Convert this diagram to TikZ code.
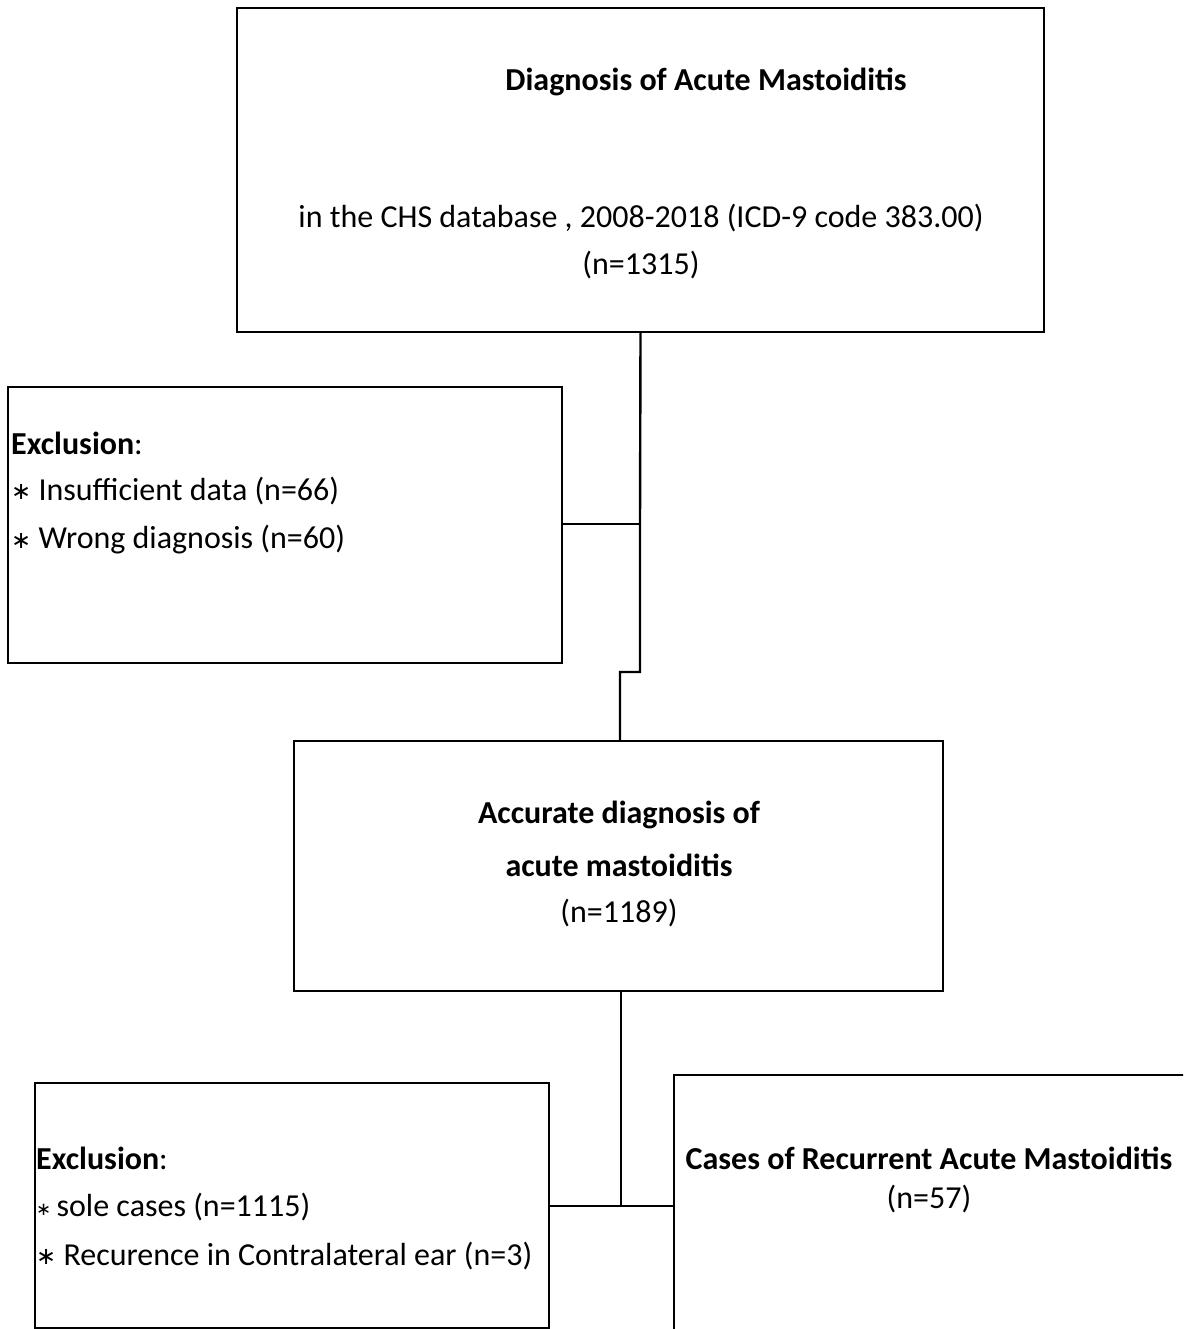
\documentclass[tikz,border=0pt]{standalone}
\usepackage{fontspec}
\setmainfont{Carlito}
\newfontfamily\symfont{DejaVu Sans}
\newcommand{\bul}[1]{\raisebox{0.02em}{\symfont\fontsize{#1}{#1}\selectfont ∗}}
\begin{document}
\begin{tikzpicture}[x=1pt,y=-1pt,
  box/.style={draw,line width=2.4pt,rectangle,inner sep=0pt},
  txt/.style={inner sep=0pt,font=\fontsize{32}{38}\selectfont},
  link/.style={line width=2.4pt}]
\useasboundingbox (0,0) rectangle (1183,1329);
\clip (0,0) rectangle (1183,1329);
% boxes
\node[box,minimum width=807pt,minimum height=324pt] (top) at (640.5,170) {};
\node[box,minimum width=554pt,minimum height=276pt] (ex1) at (285,525) {};
\node[box,minimum width=649pt,minimum height=250pt] (mid) at (618.5,866) {};
\node[box,minimum width=514pt,minimum height=245pt] (ex2) at (292,1205.5) {};
\node[box,minimum width=530pt,minimum height=275pt] (rec) at (939,1212.5) {};
% texts
\node[txt] (t1) at (706,82) {\textbf{Diagnosis of Acute Mastoiditis}};
\node[txt] (t2) at (641,218) {in the CHS database , 2008-2018 (ICD-9 code 383.00)};
\node[txt] (t3) at (641,265) {(n=1315)};
\node[txt,anchor=west] (e1) at (11,443) {\textbf{Exclusion}:};
\node[txt,anchor=west] (e2) at (11,491) {\bul{24} Insufficient data (n=66)};
\node[txt,anchor=west] (e3) at (11,540) {\bul{24} Wrong diagnosis (n=60)};
\node[txt] (m1) at (619,815) {\textbf{Accurate diagnosis of}};
\node[txt] (m2) at (619,865) {\textbf{acute mastoiditis}};
\node[txt] (m3) at (619,913) {(n=1189)};
\node[txt,anchor=west] (f1) at (36,1158) {\textbf{Exclusion}:};
\node[txt,anchor=west] (f2) at (36,1207) {\bul{18}\,sole cases (n=1115)};
\node[txt,anchor=west] (f3) at (36,1256) {\bul{24} Recurence in Contralateral ear (n=3)};
\node[txt] (r1) at (929,1158) {\textbf{Cases of Recurrent Acute Mastoiditis}};
\node[txt] (r2) at (929,1199) {(n=57)};
% connectors
\coordinate (j1) at (640,524);
\coordinate (k1) at (640,672);
\coordinate (k2) at (620,672);
\draw[link] (top.south) -- (j1) -- (k1) -- (k2) -- (k2 |- mid.north);
\draw[link] (ex1.east |- j1) -- (j1);
\coordinate (j2) at (621,1206);
\draw[link] (mid.south -| j2) -- (j2);
\draw[link] (ex2.east |- j2) -- (rec.west |- j2);
\end{tikzpicture}
\end{document}
